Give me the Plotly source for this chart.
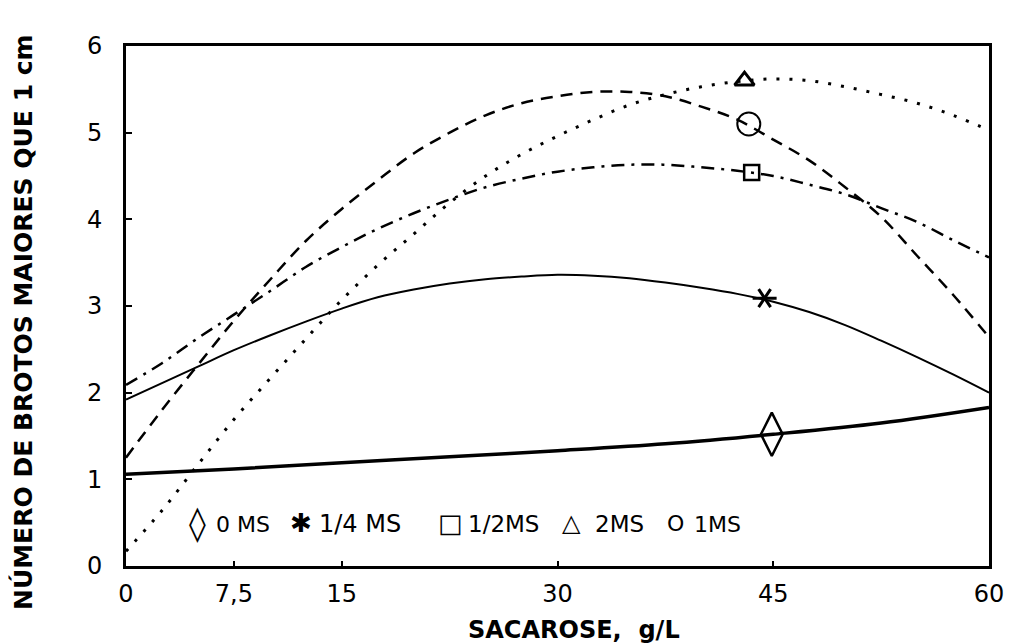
import plotly.graph_objects as go

# ---------------- data ----------------
sacarose = [0, 2.5, 5, 7.5, 10, 12.5, 15, 17.5, 20, 22.5, 25, 27.5, 30,
            32.5, 35, 37.5, 40, 42.5, 45, 47.5, 50, 52.5, 55, 57.5, 60]

sacarose_0ms = [0, 7.5, 15, 22.5, 30, 37.5, 45, 52.5, 60]
ms_0 = [1.06, 1.12, 1.19, 1.26, 1.33, 1.41, 1.52, 1.65, 1.83]

ms_1_4 = [1.92, 2.11, 2.30, 2.49, 2.66, 2.82, 2.97, 3.10, 3.19, 3.26, 3.31, 3.34,
          3.36, 3.35, 3.32, 3.27, 3.21, 3.14, 3.05, 2.93, 2.78, 2.60, 2.41, 2.21, 2.00]

ms_1_2 = [2.09, 2.34, 2.63, 2.90, 3.17, 3.45, 3.68, 3.89, 4.07, 4.23, 4.37, 4.47,
          4.55, 4.60, 4.63, 4.63, 4.60, 4.56, 4.50, 4.40, 4.29, 4.13, 3.97, 3.76, 3.56]

ms_1 = [1.25, 1.80, 2.32, 2.83, 3.30, 3.75, 4.12, 4.45, 4.76, 5.00, 5.20, 5.34,
        5.42, 5.47, 5.47, 5.42, 5.30, 5.15, 4.92, 4.68, 4.37, 4.03, 3.58, 3.13, 2.64]

ms_2 = [0.17, 0.64, 1.17, 1.69, 2.16, 2.62, 3.07, 3.47, 3.83, 4.19, 4.50, 4.75,
        4.96, 5.15, 5.32, 5.44, 5.53, 5.59, 5.62, 5.60, 5.53, 5.44, 5.34, 5.20, 5.03]

# single marked points on each curve
point_names = ["0 MS", "1/4 MS", "1/2MS", "2MS", "1MS"]
point_x = [44.9, 44.4, 43.5, 43.0, 43.3]
point_y = [1.52, 3.09, 4.54, 5.60, 5.10]

x_tickvals = [0, 7.5, 15, 30, 45, 60]
x_ticktext = ["0", "7,5", "15", "30", "45", "60"]
y_tickvals = [0, 1, 2, 3, 4, 5, 6]
y_ticktext = ["0", "1", "2", "3", "4", "5", "6"]

legend_symbols = ["◊", "✱", "□", "△", "O"]
legend_labels = ["0 MS", "1/4 MS", "1/2MS", "2MS", "1MS"]

x_title = "SACAROSE,  g/L"
y_title = "NÚMERO DE BROTOS MAIORES QUE 1 cm"

# ---------------- figure ----------------
# the page places the figure 8 px from the top-left corner
OFF = 8
W, H = 1017 - OFF, 644 - OFF
PL, PR, PT, PB = 126, 989, 46, 566          # plot area in page pixels
L, R, T, B = PL - OFF, 1017 - PR, PT - OFF, 644 - PB
PW, PH = PR - PL, PB - PT

def px_to_paper_x(px):
    return (px - PL) / PW

def py_to_paper_y(py):
    return (PB - py) / PH

fig = go.Figure()

fig.add_trace(go.Scatter(x=sacarose_0ms, y=ms_0, mode="lines", line_shape="spline",
                         line=dict(color="black", width=3.5), showlegend=False))
fig.add_trace(go.Scatter(x=sacarose, y=ms_1_4, mode="lines", line_shape="spline",
                         line=dict(color="black", width=2), showlegend=False))
fig.add_trace(go.Scatter(x=sacarose, y=ms_1_2, mode="lines", line_shape="spline",
                         line=dict(color="black", width=2.5, dash="13px,7px,3px,7px"),
                         showlegend=False))
fig.add_trace(go.Scatter(x=sacarose, y=ms_1, mode="lines", line_shape="spline",
                         line=dict(color="black", width=2.5, dash="12px,8px"),
                         showlegend=False))
fig.add_trace(go.Scatter(x=sacarose, y=ms_2, mode="lines", line_shape="spline",
                         line=dict(color="black", width=3, dash="3px,10px"),
                         showlegend=False))

# markers
fig.add_trace(go.Scatter(x=[point_x[0]], y=[point_y[0]], mode="markers",
                         marker=dict(symbol="diamond-tall-open", size=31, color="black",
                                     line=dict(width=2.5, color="black")),
                         showlegend=False))
for sym in ["y-up-open", "y-down-open"]:
    fig.add_trace(go.Scatter(x=[point_x[1]], y=[point_y[1]], mode="markers",
                             marker=dict(symbol=sym, size=15, angle=90, color="black",
                                         line=dict(width=3, color="black")),
                             showlegend=False))
fig.add_trace(go.Scatter(x=[point_x[2]], y=[point_y[2]], mode="markers",
                         marker=dict(symbol="square-open", size=15, color="black",
                                     line=dict(width=2.5, color="black")),
                         showlegend=False))
fig.add_trace(go.Scatter(x=[point_x[3]], y=[point_y[3]], mode="markers",
                         marker=dict(symbol="triangle-up-open", size=17, color="black",
                                     line=dict(width=3, color="black")),
                         showlegend=False))
fig.add_trace(go.Scatter(x=[point_x[4]], y=[point_y[4]], mode="markers",
                         marker=dict(symbol="circle-open", size=23, color="black",
                                     line=dict(width=2, color="black")),
                         showlegend=False))

# legend row drawn as text
sym_px = [197, 301, 450, 571, 675]
sym_size = [34, 26, 26, 24, 22]
lab_px = [214, 317, 466, 593, 692]
lab_size = [22, 24, 23, 23, 22]
row_py = 523

annotations = []
for s, sx, ss in zip(legend_symbols, sym_px, sym_size):
    annotations.append(dict(text=s, x=px_to_paper_x(sx), y=py_to_paper_y(row_py),
                            xref="paper", yref="paper", xanchor="center", yanchor="middle",
                            showarrow=False,
                            font=dict(family="DejaVu Sans", size=ss, color="black")))
for lbl, lx, ls in zip(legend_labels, lab_px, lab_size):
    annotations.append(dict(text=lbl, x=px_to_paper_x(lx), y=py_to_paper_y(row_py + 1),
                            xref="paper", yref="paper", xanchor="left", yanchor="middle",
                            showarrow=False,
                            font=dict(family="DejaVu Sans", size=ls, color="black")))

# axis titles
annotations.append(dict(text=f"<b>{x_title}</b>", x=px_to_paper_x(574), y=py_to_paper_y(630),
                        xref="paper", yref="paper", xanchor="center", yanchor="middle",
                        showarrow=False,
                        font=dict(family="DejaVu Sans", size=24, color="black")))
annotations.append(dict(text=f"<b>{y_title}</b>", x=px_to_paper_x(23), y=py_to_paper_y(322),
                        xref="paper", yref="paper", xanchor="center", yanchor="middle",
                        textangle=-90, showarrow=False,
                        font=dict(family="DejaVu Sans", size=25, color="black")))

axis_common = dict(showgrid=False, zeroline=False, showline=True, linecolor="black",
                   linewidth=3, mirror=True, ticks="inside", tickcolor="black",
                   tickwidth=2, tickfont=dict(family="DejaVu Sans", size=24, color="black"))

fig.update_layout(
    width=W, height=H,
    margin=dict(l=L, r=R, t=T, b=B, pad=0),
    paper_bgcolor="white", plot_bgcolor="white",
    xaxis=dict(range=[0, 60], tickvals=x_tickvals, ticktext=x_ticktext,
               ticklen=5, ticklabelstandoff=4, **axis_common),
    yaxis=dict(range=[0, 6], tickvals=y_tickvals, ticktext=y_ticktext,
               ticklen=6, ticklabelstandoff=16, **axis_common),
    annotations=annotations,
    showlegend=False,
)

fig.write_html("out.html")
